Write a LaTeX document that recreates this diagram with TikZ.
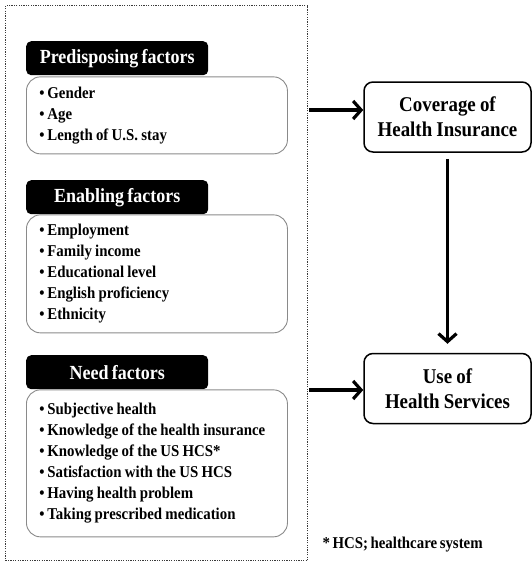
\documentclass[tikz,border=0pt]{standalone}
\usepackage{fontspec}
\setmainfont{Liberation Serif}[FakeStretch=0.9, WordSpace=0.7]
\usetikzlibrary{arrows.meta,positioning}
\definecolor{boxgray}{HTML}{8A8A8A}
\definecolor{framegray}{HTML}{3A3A3A}
\tikzset{
  head/.style={fill=black, rounded corners=5pt, text=white, inner sep=0pt, minimum width=182pt, minimum height=34pt, font=\fontsize{20}{22}\selectfont\bfseries},
  list/.style={draw=boxgray, line width=0.9pt, rounded corners=14pt, align=left, text width=235pt, inner xsep=13pt, inner ysep=0pt, font=\fontsize{16.5}{21}\selectfont\bfseries,
    execute at begin node={\spaceskip=0.2em\xspaceskip=0.2em\relax}},
  outcome/.style={draw, line width=1.5pt, rounded corners=9pt, align=center, inner sep=0pt, minimum width=167pt, minimum height=70pt, font=\fontsize{21}{25}\selectfont\bfseries,
    execute at begin node={\spaceskip=0.2em\relax}},
  frame/.style={draw=framegray, line width=1.3pt, dash pattern=on 1.2pt off 1.2pt, inner sep=0pt, minimum width=302pt, minimum height=555pt},
  flow/.style={-{Straight Barb[length=8pt,width=18pt]}, line width=3.2pt},
  note/.style={font=\fontsize{16.5}{19}\selectfont\bfseries}
}

\begin{document}
\begin{tikzpicture}[x=1pt, y=-1pt]
  \useasboundingbox (0,0) rectangle (532,563);
  \node[frame, anchor=north west] (frame) at (5,5) {};

  % left column
  \node[head, anchor=north west] (pred) at (26,41) {Predisposing factors};
  \node[list, minimum height=77pt, below=1pt of pred.south west, anchor=north west] (predlist)
    {\textbullet\,Gender\\ \textbullet\,Age\\ \textbullet\,Length of U.S. stay};
  \node[head, anchor=north west] (enab) at (26,180) {Enabling factors};
  \node[list, minimum height=118pt, below=0pt of enab.south west, anchor=north west] (enablist)
    {\textbullet\,Employment\\ \textbullet\,Family income\\ \textbullet\,Educational level\\
     \textbullet\,English proficiency\\ \textbullet\,Ethnicity};
  \node[head, anchor=north west] (need) at (26,355) {Need factors};
  \node[list, minimum height=147pt, below=0pt of need.south west, anchor=north west] (needlist)
    {\textbullet\,Subjective health\\ \textbullet\,Knowledge of the health insurance\\
     \textbullet\,Knowledge of the US HCS*\\ \textbullet\,Satisfaction with the US HCS\\
     \textbullet\,Having health problem\\ \textbullet\,Taking prescribed medication};

  % right column
  \node[outcome] (cov) at (447.5,117) {Coverage of\\Health Insurance};
  \node[outcome] (use) at (447.5,388.5) {Use of\\Health Services};
  \node[note, anchor=west] (foot) at (319,545) {* HCS; healthcare system};

  \coordinate (p1) at (309,110);
  \coordinate (p2) at (309,390);
  \draw[flow] (p1) -- (p1 -| cov.west);
  \draw[flow] (p2) -- (p2 -| use.west);
  \draw[flow, shorten <=6pt, shorten >=9pt] (cov.south) -- (use.north);
\end{tikzpicture}
\end{document}
